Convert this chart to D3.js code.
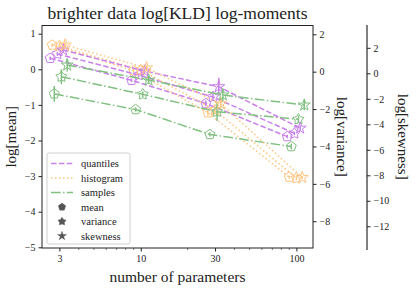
<!DOCTYPE html>
<html>
<head>
<meta charset="utf-8">
<title>log-moments</title>
<script src="https://cdnjs.cloudflare.com/ajax/libs/d3/7.8.5/d3.min.js"></script>
<style>
  body { margin: 0; background: #fff; }
  svg text { font-family: "Liberation Serif", "DejaVu Serif", serif; fill: #222; }
</style>
</head>
<body>
<script>
// number of parameters
var nParams = [3, 10, 30, 100];

var methods = ["quantiles", "histogram", "samples"];
var moments = ["mean", "variance", "skewness"];

// log[mean] values (left axis)
var meanQuantiles = [0.31, -0.31, -0.96, -1.89];
var meanHistogram = [0.68, -0.04, -1.22, -3.03];
var meanSamples   = [-0.69, -1.13, -1.83, -2.17];

// log[variance] values (first right axis)
var varQuantiles = [0.95, -0.18, -1.35, -3.3];
var varHistogram = [1.37, 0.09, -2.05, -5.7];
var varSamples   = [-0.27, -1.21, -2.14, -2.55];

// log[skewness] values (second right axis)
var skewQuantiles = [1.83, 0.18, -1.05, -4.3];
var skewHistogram = [2.22, 0.42, -2.4, -8.17];
var skewSamples   = [0.65, -0.53, -1.7, -2.49];

// error bar half-widths, same units as values
var meanErrQuantiles = [0.05, 0.05, 0.08, 0.05];
var meanErrHistogram = [0.04, 0.05, 0.08, 0.04];
var meanErrSamples   = [0.22, 0.06, 0.06, 0.08];
var varErrQuantiles = [0.1, 0.1, 0.2, 0.1];
var varErrHistogram = [0.1, 0.1, 0.2, 0.1];
var varErrSamples   = [0.4, 0.15, 0.5, 0.2];
var skewErrQuantiles = [0.2, 0.2, 0.7, 0.2];
var skewErrHistogram = [0.2, 0.2, 0.3, 0.1];
var skewErrSamples   = [0.5, 0.3, 0.5, 0.4];

var xTicks = [3, 10, 30, 100];
var meanTicks = [-5, -4, -3, -2, -1, 0, 1];
var varTicks = [-8, -6, -4, -2, 0, 2];
var skewTicks = [-12, -10, -8, -6, -4, -2, 0, 2];

var W = 416, H = 291;
var L = 42, R = 313, T = 25.5, B = 248;

var colors = { quantiles: "#c880ea", histogram: "#ffc47f", samples: "#80c080" };
var dashes = { quantiles: "5.5,2.4", histogram: "1.5,2.5", samples: "9.6,2.4,1.5,2.4" };
var methodShift = { quantiles: 0.97, histogram: 1.0, samples: 1.03 };
var momentShift = { mean: 0.9, variance: 1.0, skewness: 1.09 };

var svg = d3.select("body").append("svg").attr("width", W).attr("height", H);

var x = d3.scaleLog().domain([2.32, 127.8]).range([L, R]);
var yMean = d3.scaleLinear().domain([-5.02, 1.23]).range([B, T]);
var yVar = d3.scaleLinear().domain([-9.43, 2.47]).range([B, T]);
var ySkew = d3.scaleLinear().domain([-13.86, 3.79]).range([250, 25]);

var fmt = function(d) { return d < 0 ? "\u2212" + Math.abs(d) : String(d); };

function starPath(R0, r0) {
  var pts = [];
  for (var i = 0; i < 10; i++) {
    var a = -Math.PI / 2 + i * Math.PI / 5;
    var rr = i % 2 === 0 ? R0 : r0;
    pts.push([rr * Math.cos(a), rr * Math.sin(a)]);
  }
  return "M" + pts.map(function(p) { return p[0].toFixed(2) + "," + p[1].toFixed(2); }).join("L") + "Z";
}
function pentPath(R0) {
  var pts = [];
  for (var i = 0; i < 5; i++) {
    var a = -Math.PI / 2 + i * 2 * Math.PI / 5;
    pts.push([R0 * Math.cos(a), R0 * Math.sin(a)]);
  }
  return "M" + pts.map(function(p) { return p[0].toFixed(2) + "," + p[1].toFixed(2); }).join("L") + "Z";
}
var markerPaths = { mean: pentPath(5.2), variance: starPath(5.8, 3.4), skewness: starPath(6.3, 2.4) };

var series = [
  { method: "quantiles", moment: "mean", vals: meanQuantiles, err: meanErrQuantiles, y: yMean },
  { method: "histogram", moment: "mean", vals: meanHistogram, err: meanErrHistogram, y: yMean },
  { method: "samples", moment: "mean", vals: meanSamples, err: meanErrSamples, y: yMean },
  { method: "quantiles", moment: "variance", vals: varQuantiles, err: varErrQuantiles, y: yVar },
  { method: "histogram", moment: "variance", vals: varHistogram, err: varErrHistogram, y: yVar },
  { method: "samples", moment: "variance", vals: varSamples, err: varErrSamples, y: yVar },
  { method: "quantiles", moment: "skewness", vals: skewQuantiles, err: skewErrQuantiles, y: ySkew },
  { method: "histogram", moment: "skewness", vals: skewHistogram, err: skewErrHistogram, y: ySkew },
  { method: "samples", moment: "skewness", vals: skewSamples, err: skewErrSamples, y: ySkew }
];

var plot = svg.append("g");

series.forEach(function(s) {
  var pts = nParams.map(function(n, i) {
    return { x: x(n * momentShift[s.moment] * methodShift[s.method]), y: s.y(s.vals[i]),
             lo: s.y(s.vals[i] - s.err[i]), hi: s.y(s.vals[i] + s.err[i]) };
  });
  var g = plot.append("g");
  g.append("path")
    .attr("d", d3.line().x(function(d) { return d.x; }).y(function(d) { return d.y; })(pts))
    .attr("fill", "none")
    .attr("stroke", colors[s.method])
    .attr("stroke-width", 1.5)
    .attr("stroke-dasharray", dashes[s.method]);
  g.selectAll("line.err").data(pts).enter().append("line")
    .attr("x1", function(d) { return d.x; }).attr("x2", function(d) { return d.x; })
    .attr("y1", function(d) { return d.lo; }).attr("y2", function(d) { return d.hi; })
    .attr("stroke", colors[s.method]).attr("stroke-width", 1.5);
  g.selectAll("path.mk").data(pts).enter().append("path")
    .attr("d", markerPaths[s.moment])
    .attr("transform", function(d) { return "translate(" + d.x + "," + d.y + ")"; })
    .attr("fill", "none")
    .attr("stroke", colors[s.method])
    .attr("stroke-width", 1);
});

// axes
var xAxis = d3.axisBottom(x).tickValues(xTicks).tickFormat(d3.format("d")).tickSize(3.5).tickPadding(3);
var xMinor = [4, 5, 6, 7, 8, 9, 20, 40, 50, 60, 70, 80, 90];
svg.append("g").attr("transform", "translate(0," + B + ")").call(xAxis)
  .call(function(g) { g.select(".domain").remove(); });
svg.append("g").attr("transform", "translate(0," + B + ")")
  .selectAll("line").data(xMinor).enter().append("line")
  .attr("x1", function(d) { return x(d); }).attr("x2", function(d) { return x(d); })
  .attr("y1", 0).attr("y2", 2).attr("stroke", "#222").attr("stroke-width", 0.6);

svg.append("g").attr("transform", "translate(" + L + ",0)")
  .call(d3.axisLeft(yMean).tickValues(meanTicks).tickFormat(fmt).tickSize(3.5).tickPadding(3))
  .call(function(g) { g.select(".domain").remove(); });
svg.append("g").attr("transform", "translate(" + R + ",0)")
  .call(d3.axisRight(yVar).tickValues(varTicks).tickFormat(fmt).tickSize(3.5).tickPadding(3))
  .call(function(g) { g.select(".domain").remove(); });
svg.append("g").attr("transform", "translate(367,0)")
  .call(d3.axisRight(ySkew).tickValues(skewTicks).tickFormat(fmt).tickSize(3.5).tickPadding(3))
  .call(function(g) { g.select(".domain").attr("stroke-width", 1).attr("d", "M0,25V250"); });

svg.selectAll(".tick text").style("font-size", "10px").style("font-family", "'Liberation Serif', serif");
svg.selectAll(".tick line").attr("stroke", "#222");

svg.append("rect").attr("x", L).attr("y", T).attr("width", R - L).attr("height", B - T)
  .attr("fill", "none").attr("stroke", "#222").attr("stroke-width", 1);

// labels
svg.append("text").attr("x", (L + R) / 2).attr("y", 19).attr("text-anchor", "middle")
  .style("font-size", "17.5px").text("brighter data log[KLD] log-moments");
svg.append("text").attr("x", (L + R) / 2).attr("y", 282).attr("text-anchor", "middle")
  .style("font-size", "15.5px").text("number of parameters");
svg.append("text").attr("transform", "translate(16," + ((T + B) / 2) + ") rotate(-90)")
  .attr("text-anchor", "middle").style("font-size", "15px").text("log[mean]");
svg.append("text").attr("transform", "translate(337," + ((T + B) / 2) + ") rotate(90)")
  .attr("text-anchor", "middle").style("font-size", "15px").text("log[variance]");
svg.append("text").attr("transform", "translate(398," + ((T + B) / 2) + ") rotate(90)")
  .attr("text-anchor", "middle").style("font-size", "15px").text("log[skewness]");

// legend
var lg = svg.append("g").attr("transform", "translate(47,153)");
lg.append("rect").attr("width", 83).attr("height", 91).attr("rx", 2)
  .attr("fill", "#fff").attr("fill-opacity", 0.8).attr("stroke", "#d0d0d0").attr("stroke-width", 1);
methods.forEach(function(m, i) {
  var yy = 10.5 + i * 14.5;
  lg.append("line").attr("x1", 4).attr("x2", 26).attr("y1", yy).attr("y2", yy)
    .attr("stroke", colors[m]).attr("stroke-width", 1.5).attr("stroke-dasharray", dashes[m]);
  lg.append("text").attr("x", 34).attr("y", yy + 3.5).style("font-size", "10.5px").text(m);
});
moments.forEach(function(m, i) {
  var yy = 10.5 + (i + 3) * 14.5;
  lg.append("path").attr("d", markerPaths[m])
    .attr("transform", "translate(15," + yy + ") scale(0.75)")
    .attr("fill", "#555").attr("stroke", "#555").attr("stroke-width", 0.5);
  lg.append("text").attr("x", 34).attr("y", yy + 3.5).style("font-size", "10.5px").text(m);
});
</script>
</body>
</html>
